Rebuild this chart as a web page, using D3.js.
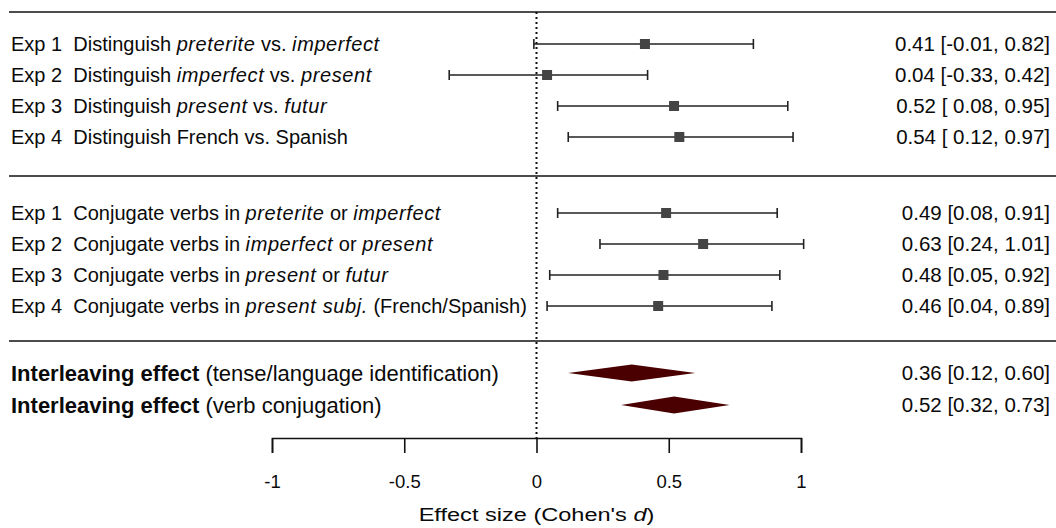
<!DOCTYPE html>
<html>
<head>
<meta charset="utf-8">
<script src="https://cdn.jsdelivr.net/npm/d3@7"></script>
<style>
  body { margin: 0; background: #fff; }
  svg { display: block; }
  text { font-family: "Liberation Sans", Arial, sans-serif; fill: #0a0a0a; white-space: pre; }
</style>
</head>
<body>
<svg width="1056" height="528"></svg>
<script>
// study rows: labels use *...* for italic parts
const study_labels_id = [
	"Exp 1  Distinguish *preterite* vs. *imperfect*",
	"Exp 2  Distinguish *imperfect* vs. *present*",
	"Exp 3  Distinguish *present* vs. *futur*",
	"Exp 4  Distinguish French vs. Spanish"
];
const study_est_id = [0.41, 0.04, 0.52, 0.54];
const study_lo_id = [-0.01, -0.33, 0.08, 0.12];
const study_hi_id = [0.82, 0.42, 0.95, 0.97];

const study_labels_conj = [
	"Exp 1  Conjugate verbs in *preterite* or *imperfect*",
	"Exp 2  Conjugate verbs in *imperfect* or *present*",
	"Exp 3  Conjugate verbs in *present* or *futur*",
	"Exp 4  Conjugate verbs in *present subj.* (French/Spanish)"
];
const study_est_conj = [0.49, 0.63, 0.48, 0.46];
const study_lo_conj = [0.08, 0.24, 0.05, 0.04];
const study_hi_conj = [0.91, 1.01, 0.92, 0.89];

const summary_bold = ["Interleaving effect", "Interleaving effect"];
const summary_rest = [" (tense/language identification)", " (verb conjugation)"];
const summary_est = [0.36, 0.52];
const summary_lo = [0.12, 0.32];
const summary_hi = [0.60, 0.73];

const x_ticks = [-1, -0.5, 0, 0.5, 1];

// layout
const xLeft = 272, xRight = 801;
const rowStep = 31;
const groupTop = [44, 213, 373];
const sepLines = [12, 176, 341];
const axisY = 438;
const labelX = 11, ciX = 1050;

const svg = d3.select('svg');
const x = d3.scaleLinear().domain([-1, 1]).range([xLeft, xRight]);
const f2 = d3.format(".2f");
const fmt = v => f2(v).replace("\u2212", "-");

function addLabel(sel, str){
	str.split("*").forEach(function(part, i){
		if (!part) return;
		sel.append('tspan')
			.attr('font-style', i % 2 ? 'italic' : 'normal')
			.attr('letter-spacing', i % 2 ? 0.6 : 0)
			.text(part);
	});
}

// separator lines
svg.selectAll('line.sep')
	.data(sepLines)
	.enter()
	.append('line')
	.classed('sep', true)
	.attr('x1', 9).attr('x2', 1056)
	.attr('y1', d => d).attr('y2', d => d)
	.attr('stroke', '#111')
	.attr('stroke-width', 1.6);

// zero reference line
svg.append('line')
	.attr('x1', x(0)).attr('x2', x(0))
	.attr('y1', sepLines[0]).attr('y2', axisY)
	.attr('stroke', '#111')
	.attr('stroke-width', 2)
	.attr('stroke-dasharray', '2,3');

function drawStudies(labels, est, lo, hi, top){
	const pad = lo.some(v => v < 0);
	const rows = labels.map((l, i) => ({label: l, est: est[i], lo: lo[i], hi: hi[i], y: top + i * rowStep}));
	const g = svg.append('g');
	const r = g.selectAll('g').data(rows).enter().append('g');

	r.append('line')
		.attr('x1', d => x(d.lo)).attr('x2', d => x(d.hi))
		.attr('y1', d => d.y).attr('y2', d => d.y)
		.attr('stroke', '#222').attr('stroke-width', 1.6);
	['lo', 'hi'].forEach(function(k){
		r.append('line')
			.attr('x1', d => x(d[k])).attr('x2', d => x(d[k]))
			.attr('y1', d => d.y - 5).attr('y2', d => d.y + 5)
			.attr('stroke', '#222').attr('stroke-width', 1.6);
	});
	r.append('rect')
		.attr('x', d => x(d.est) - 5).attr('y', d => d.y - 5)
		.attr('width', 10).attr('height', 10)
		.attr('fill', '#444');

	r.append('text')
		.attr('x', labelX).attr('y', d => d.y)
		.attr('dy', '0.35em')
		.attr('font-size', 20)
		.each(function(d){ addLabel(d3.select(this), d.label); });

	r.append('text')
		.attr('x', ciX).attr('y', d => d.y)
		.attr('dy', '0.36em')
		.attr('text-anchor', 'end')
		.attr('font-size', 20.5)
		.text(d => fmt(d.est) + ' [' + (pad && d.lo >= 0 ? ' ' : '') + fmt(d.lo) + ', ' + fmt(d.hi) + ']');
}

drawStudies(study_labels_id, study_est_id, study_lo_id, study_hi_id, groupTop[0]);
drawStudies(study_labels_conj, study_est_conj, study_lo_conj, study_hi_conj, groupTop[1]);

// summary diamonds
const sums = summary_est.map((e, i) => ({est: e, lo: summary_lo[i], hi: summary_hi[i], y: groupTop[2] + i * 32, bold: summary_bold[i], rest: summary_rest[i]}));
const sg = svg.append('g').selectAll('g').data(sums).enter().append('g');
sg.append('path')
	.attr('d', d => 'M' + x(d.lo) + ',' + d.y + 'L' + x(d.est) + ',' + (d.y - 8.5) + 'L' + x(d.hi) + ',' + d.y + 'L' + x(d.est) + ',' + (d.y + 8.5) + 'Z')
	.attr('fill', '#4a0000');
let st = sg.append('text')
	.attr('x', labelX).attr('y', d => d.y)
	.attr('dy', '0.35em')
	.attr('font-size', 22);
st.append('tspan').attr('font-weight', 'bold').text(d => d.bold);
st.append('tspan').text(d => d.rest);
sg.append('text')
	.attr('x', ciX).attr('y', d => d.y)
	.attr('dy', '0.36em')
	.attr('text-anchor', 'end')
	.attr('font-size', 20.5)
	.text(d => fmt(d.est) + ' [' + fmt(d.lo) + ', ' + fmt(d.hi) + ']');

// x axis
const axis = svg.append('g')
	.attr('transform', 'translate(0,' + axisY + ')')
	.call(d3.axisBottom(x).tickValues(x_ticks).tickSize(15).tickPadding(22).tickFormat(d => String(d)));
axis.select('.domain').attr('stroke', '#111').attr('stroke-width', 1.6);
axis.selectAll('.tick line').attr('stroke', '#111').attr('stroke-width', 1.6);
axis.selectAll('.tick text')
	.attr('font-size', 18.5)
	.attr('font-family', '"Liberation Sans", Arial, sans-serif')
	.attr('fill', '#0a0a0a');

// axis title, stretched horizontally like the source figure
let title = svg.append('text')
	.attr('transform', 'translate(' + x(0) + ',521) scale(1.24,1)')
	.attr('text-anchor', 'middle')
	.attr('font-size', 19);
title.append('tspan').text("Effect size (Cohen's ");
title.append('tspan').attr('font-style', 'italic').text('d');
title.append('tspan').text(')');
</script>
</body>
</html>
